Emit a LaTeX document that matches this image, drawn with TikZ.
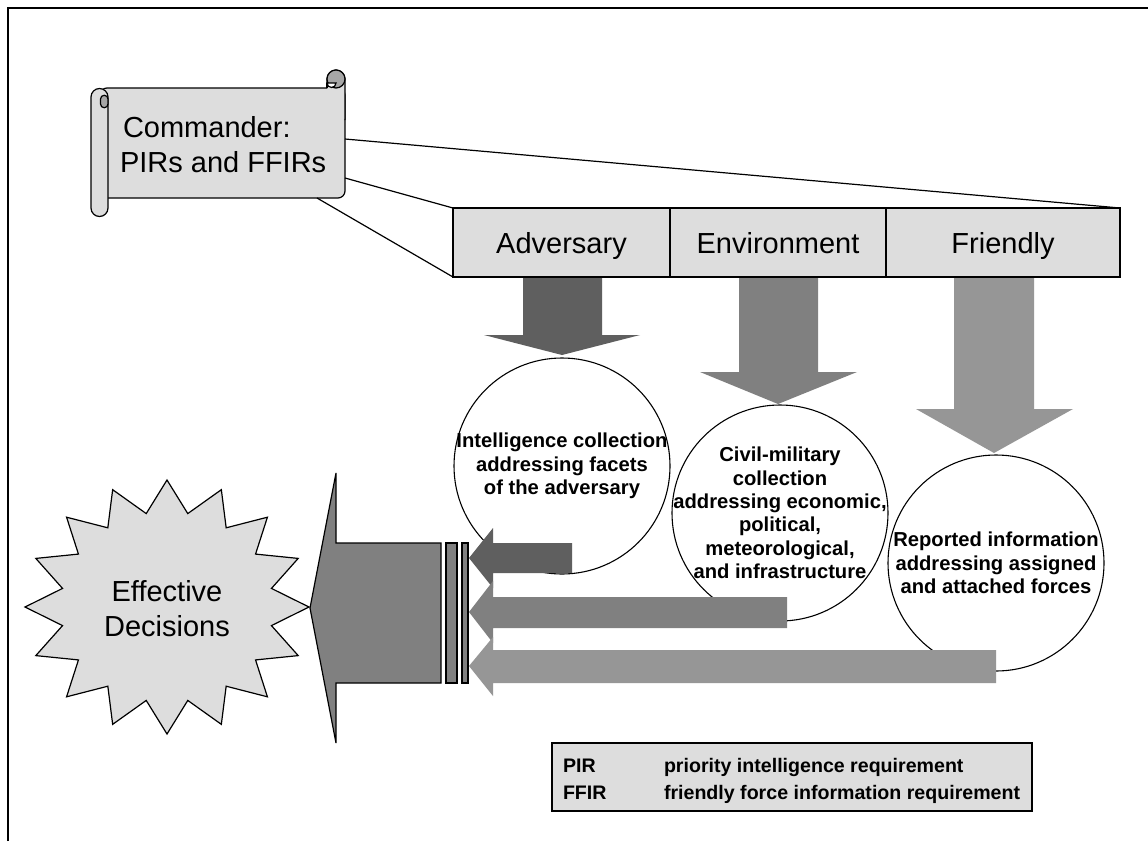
\documentclass[tikz,border=0pt]{standalone}
\usepackage{fontspec}
\setmainfont{Liberation Sans}
\definecolor{paper}{HTML}{DDDDDD}
\definecolor{advgray}{HTML}{5F5F5F}
\definecolor{midgray}{HTML}{808080}
\definecolor{frigray}{HTML}{969696}
\definecolor{curlgray}{HTML}{A6A6A6}
\begin{document}
\begin{tikzpicture}[x=1pt,y=-1pt,
  every node/.style={inner sep=0pt, outer sep=0pt},
  outline/.style={draw=black, line width=1.2pt},
  paperfill/.style={outline, fill=paper},
  cell/.style={paperfill, minimum height=69pt, font=\fontsize{29}{35}\selectfont, text height=21pt, text depth=0pt},
  topic/.style={circle, draw=black, fill=white, line width=1.1pt, minimum size=216pt},
  topictext/.style={align=center, font=\bfseries\fontsize{20.2}{23.4}\selectfont},
  bigtext/.style={font=\fontsize{29}{35}\selectfont},
  legendtext/.style={anchor=base west, font=\bfseries\fontsize{19.6}{23.4}\selectfont},
  link/.style={draw=black, line width=1.2pt},
]
\useasboundingbox (0,0) rectangle (1148,841);
\fill[white] (0,0) rectangle (1148,841);

% page frame (top and left edges)
\draw[line width=2.4pt] (8,841) -- (8,8) -- (1148,8);

% commander's scroll
\node[paperfill, rounded corners=7pt, minimum width=245pt, minimum height=110pt] (cmd) at (222.5,143) {};
\draw[paperfill] (91,208) -- (91,97) arc[start angle=180, end angle=360, radius=8.5]
  -- (108,208) arc[start angle=0, end angle=180, radius=8.5] -- cycle;
\draw[outline, fill=curlgray] (100.5,99) arc[start angle=180, end angle=360, radius=3.75]
  -- (108,104) arc[start angle=0, end angle=180, radius=3.75] -- cycle;
\draw[paperfill] (327,88) -- (327,79) arc[start angle=180, end angle=360, radius=9] -- (345,120);
\draw[outline, fill=curlgray] (336,79) circle[radius=9];
\draw[outline, fill=white] (327,83) arc[start angle=180, end angle=0, radius=4.5] -- cycle;
\draw[outline] (327,83) -- (327,88);
\node[bigtext, anchor=base west] (cmdA) at (123,137) {Commander:};
\node[bigtext, anchor=base west] (cmdB) at (120,172) {PIRs and FFIRs};

% down arrows from the three categories
\fill[advgray] (523,277) -- (602,277) -- (602,335) -- (640,335) -- (562,355) -- (484,335) -- (523,335) -- cycle;
\fill[midgray] (739,277) -- (818,277) -- (818,372) -- (857,372) -- (778,404) -- (700,372) -- (739,372) -- cycle;
\fill[frigray] (954,277) -- (1034,277) -- (1034,409) -- (1073,409) -- (994,453) -- (916,409) -- (954,409) -- cycle;

% category bar
\node[cell, minimum width=217pt] (adv) at (561.5,242.5) {Adversary};
\node[cell, minimum width=216pt] (env) at (778,242.5) {Environment};
\node[cell, minimum width=234pt] (fri) at (1003,242.5) {Friendly};

% lines fanning out from the scroll
\draw[link] ([yshift=4pt]cmd.east) -- (fri.north east);
\draw[link] ([yshift=-35pt]cmd.east) -- (adv.north west);
\draw[link] ([xshift=-28pt]cmd.south east) -- (adv.south west);

% collection circles
\node[topic] (c1) at (562,466) {};
\node[topictext] (t1) at (c1) {Intelligence collection\\addressing facets\\of the adversary};
\node[topic] (c2) at (780,513) {};
\node[topictext] (t2) at (c2) {Civil-military\\collection\\addressing economic,\\political,\\meteorological,\\and infrastructure};
\node[topic] (c3) at (996,563) {};
\node[topictext] (t3) at (c3) {Reported information\\addressing assigned\\and attached forces};

% arrows feeding back to the decision arrow
\fill[advgray] (469,558) -- (493,528) -- (493,543) -- (572,543) -- (572,573) -- (493,573) -- (493,588) -- cycle;
\fill[midgray] (469,612) -- (493,581) -- (493,597) -- (787,597) -- (787,628) -- (493,628) -- (493,643) -- cycle;
\fill[frigray] (469,666) -- (493,637) -- (493,650) -- (996,650) -- (996,683) -- (493,683) -- (493,696) -- cycle;

% large arrow and its tail bars
\draw[outline, fill=midgray] (310,608) -- (336,473) -- (336,543) -- (441,543) -- (441,683) -- (336,683) -- (336,743) -- cycle;
\draw[outline, fill=midgray] (446,543) rectangle (457,683);
\draw[outline, fill=midgray] (462,543) rectangle (468,683);

% starburst
\draw[paperfill] plot[samples at={0,...,31}, variable=\k]
  ({167+142*(1-0.25*mod(\k,2))*cos(\k*11.25)}, {607+127*(1-0.25*mod(\k,2))*sin(\k*11.25)}) -- cycle;
\node[bigtext, align=center] (eff) at (167,609) {Effective\\Decisions};

% legend
\node[paperfill, minimum width=480pt, minimum height=68pt] (legend) at (792,777) {};
\node[legendtext] (pir) at (563,772) {PIR};
\node[legendtext] (pirdef) at (664,772) {priority intelligence requirement};
\node[legendtext] (ffir) at (563,799) {FFIR};
\node[legendtext] (ffirdef) at (664,799) {friendly force information requirement};
\end{tikzpicture}
\end{document}
